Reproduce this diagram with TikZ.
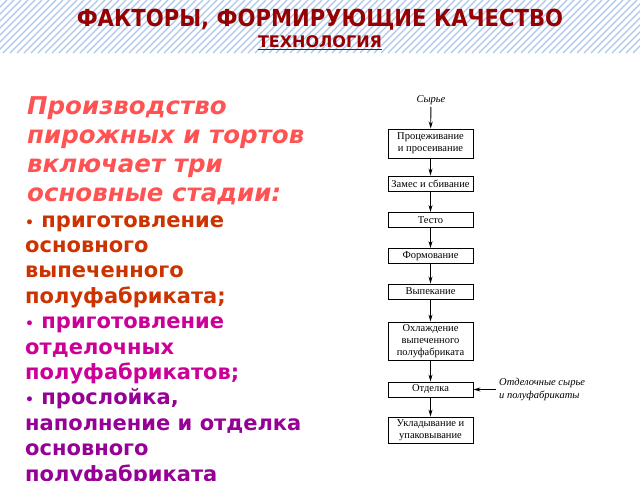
\documentclass[tikz,border=0pt]{standalone}
\usepackage{fontspec}
\setmainfont{DejaVu Sans}
\newfontfamily\flowfont{Liberation Serif}
\newfontfamily\titlefont{DejaVu Sans}[FakeStretch=0.9]
\usetikzlibrary{arrows.meta,positioning}
\definecolor{titlered}{RGB}{150,0,0}
\definecolor{headred}{RGB}{255,82,82}
\definecolor{stageone}{RGB}{204,51,0}
\definecolor{stagetwo}{RGB}{204,0,153}
\definecolor{stagethree}{RGB}{150,0,150}
\definecolor{hatchblue}{RGB}{172,198,236}
\newcommand{\blt}{{\fontsize{14}{14}\selectfont•}\ }
\tikzset{
	box/.style={draw,rectangle,align=center,minimum width=85pt,inner sep=1pt,line width=0.9pt,font=\flowfont\fontsize{10.5}{12}\selectfont},
	note/.style={align=left,inner sep=3pt,font=\flowfont\itshape\fontsize{10.5}{13}\selectfont},
	stage/.style={anchor=north west,align=left,inner sep=0pt,font=\bfseries\fontsize{21}{25.4}\selectfont},
	>={Stealth[length=7pt,width=4pt]},
	flow/.style={->,line width=0.9pt}
}
\begin{document}
\begin{tikzpicture}[x=1pt,y=-1pt]
	\useasboundingbox (0,0) rectangle (640,480);
	% header band
	\begin{scope}
		\clip (0,0) rectangle (640,53);
		\foreach \i in {-60,-53,...,700}
			\draw[hatchblue,line width=1.2pt] (\i,53) -- ++(53,-53);
	\end{scope}
	\node[anchor=base,text=titlered,font=\titlefont\bfseries\fontsize{23.5}{23.5}\selectfont] (T1) at (320,26) {ФАКТОРЫ, ФОРМИРУЮЩИЕ КАЧЕСТВО};
	\node[anchor=base,text=titlered,font=\bfseries\fontsize{16}{16}\selectfont] (T2) at (320,47.5) {\underline{ТЕХНОЛОГИЯ}};

	% left text
	\node[stage,text=headred,font=\bfseries\itshape\fontsize{24.5}{29}\selectfont] (H) at (27,93.7) {\strut Производство\\пирожных и тортов\\включает три\\основные стадии:};
	\node[stage,text=stageone] (L1) at (25,209.2) {\strut\blt приготовление\\основного\\выпеченного\\полуфабриката;};
	\node[stage,text=stagetwo] (L2) at (25,310.8) {\strut\blt приготовление\\отделочных\\полуфабрикатов;};
	\node[stage,text=stagethree] (L3) at (25,387) {\strut\blt прослойка,\\наполнение и отделка\\основного\\полуфабриката};

	% flow chart
	\node[note,inner sep=2pt] (R) at (431,100) {Сырье};
	\node[box,minimum height=29pt] (B1) at (430.5,143.5) {Процеживание\\и просеивание};
	\node[box,minimum height=15pt] (B2) at (430.5,183.5) {Замес и сбивание};
	\node[box,minimum height=15pt] (B3) at (430.5,220) {Тесто};
	\node[box,minimum height=15pt] (B4) at (430.5,256) {Формование};
	\node[box,minimum height=15pt] (B5) at (430.5,291.5) {Выпекание};
	\node[box,minimum height=38pt] (B6) at (430.5,341) {Охлаждение\\выпеченного\\полуфабриката};
	\node[box,minimum height=15pt] (B7) at (430.5,389.5) {Отделка};
	\node[box,minimum height=26pt] (B8) at (430.5,430) {Укладывание и\\упаковывание};
	\node[note,anchor=west] (F) at (496,389.5) {Отделочные сырье\\и полуфабрикаты};

	\draw[flow] (R) -- (B1);
	\draw[flow] (B1) -- (B2);
	\draw[flow] (B2) -- (B3);
	\draw[flow] (B3) -- (B4);
	\draw[flow] (B4) -- (B5);
	\draw[flow] (B5) -- (B6);
	\draw[flow] (B6) -- (B7);
	\draw[flow] (B7) -- (B8);
	\draw[flow] (F.west) -- (B7.east);
\end{tikzpicture}
\end{document}
